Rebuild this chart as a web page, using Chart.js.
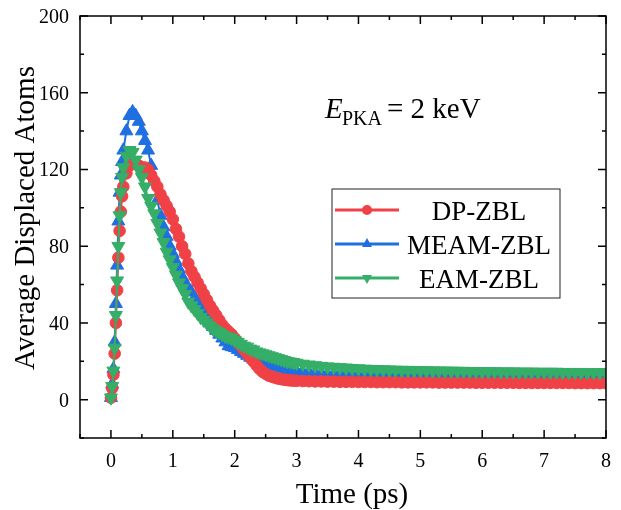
<!DOCTYPE html>
<html>
<head>
<meta charset="utf-8">
<script src="https://cdn.jsdelivr.net/npm/chart.js@4.4.1/dist/chart.umd.min.js"></script>
<style>
  body { margin: 0; background: #fff; }
  canvas { display: block; }
</style>
</head>
<body>
<canvas id="graph" width="621" height="510"></canvas>
<script>
// time (ps)
const time = [
  0, 0.02, 0.04, 0.06, 0.08, 0.1, 0.12, 0.14, 0.16, 0.18, 0.2,
  0.25, 0.3, 0.35, 0.4, 0.45, 0.5, 0.55, 0.6, 0.65, 0.7,
  0.75, 0.8, 0.85, 0.9, 0.95, 1.0, 1.05, 1.1, 1.15, 1.2,
  1.25, 1.3, 1.35, 1.4, 1.45, 1.5, 1.55, 1.6, 1.65, 1.7,
  1.75, 1.8, 1.85, 1.9, 1.95, 2.0, 2.05, 2.1, 2.15, 2.2,
  2.25, 2.3, 2.35, 2.4, 2.45, 2.5, 2.55, 2.6, 2.65, 2.7,
  2.75, 2.8, 2.85, 2.9, 2.95, 3.0,
  3.1, 3.2, 3.3, 3.4, 3.5, 3.6, 3.7, 3.8, 3.9, 4.0,
  4.1, 4.2, 4.3, 4.4, 4.5, 4.6, 4.7, 4.8, 4.9, 5.0,
  5.1, 5.2, 5.3, 5.4, 5.5, 5.6, 5.7, 5.8, 5.9, 6.0,
  6.1, 6.2, 6.3, 6.4, 6.5, 6.6, 6.7, 6.8, 6.9, 7.0,
  7.1, 7.2, 7.3, 7.4, 7.5, 7.6, 7.7, 7.8, 7.9, 8.0
];

const dpZbl = [
  1, 6, 13, 24, 40, 57, 74, 88, 98, 106, 111,
  118, 122, 124, 123, 122, 121, 121, 120, 117, 114,
  111, 107, 104, 101, 98, 94, 89, 85, 80, 76,
  71, 67, 64, 61, 58, 55, 52, 49, 46.5, 44,
  41.5, 39, 37, 35.5, 34, 32, 30, 28, 26, 24,
  22, 20, 18, 16, 14.5, 13.5, 12.5, 12, 11.5, 11,
  10.7, 10.4, 10.2, 10, 9.9, 9.8,
  9.7, 9.6, 9.5, 9.5, 9.4, 9.4, 9.3, 9.3, 9.3, 9.2,
  9.2, 9.2, 9.1, 9.1, 9.1, 9.1, 9.0, 9.0, 9.0, 9.0,
  9.0, 9.0, 8.9, 8.9, 8.9, 8.9, 8.9, 8.9, 8.8, 8.8,
  8.8, 8.8, 8.8, 8.8, 8.8, 8.7, 8.7, 8.7, 8.7, 8.7,
  8.7, 8.7, 8.7, 8.7, 8.6, 8.6, 8.6, 8.6, 8.6, 8.6
];

const meamZbl = [
  1, 8, 16, 30, 50, 70, 93, 108, 117, 124, 130,
  140, 148, 150, 148, 145, 140, 135, 130, 122, 114,
  104, 96, 90, 85, 80, 76, 72, 68, 64, 61,
  58, 56, 53, 51, 48, 45, 43, 40, 38, 36,
  34, 32, 30, 28, 27.5, 27, 26, 25, 24, 23,
  22, 21, 20.5, 20, 19.5, 19, 18.5, 18, 17.5, 17,
  16.5, 16, 15.7, 15.4, 15.1, 14.8,
  14.4, 14.1, 13.8, 13.6, 13.4, 13.2, 13.0, 12.9, 12.8, 12.7,
  12.6, 12.6, 12.5, 12.5, 12.4, 12.4, 12.4, 12.3, 12.3, 12.3,
  12.3, 12.2, 12.2, 12.2, 12.2, 12.1, 12.1, 12.1, 12.1, 12.1,
  12.0, 12.0, 12.0, 12.0, 12.0, 12.0, 12.0, 11.9, 11.9, 11.9,
  11.9, 11.9, 11.9, 11.9, 11.9, 11.8, 11.8, 11.8, 11.8, 11.8
];

const eamZbl = [
  1, 7, 15, 27, 44, 62, 80, 96, 108, 116, 121,
  127, 130, 129, 125, 120, 116, 111, 105, 101, 97,
  92, 87, 82, 77, 73, 69, 65, 61, 58, 55,
  51, 49, 47, 45, 43, 41.5, 40, 38.5, 37, 36,
  35, 34, 33, 32.5, 32, 31, 30, 29, 28, 27.5,
  26.5, 26, 25, 24.5, 24, 23.5, 23, 22.5, 22, 21.5,
  21, 20.5, 20, 19.7, 19.4, 19.1,
  18.6, 18.2, 17.8, 17.5, 17.2, 17.0, 16.8, 16.6, 16.4, 16.2,
  16.0, 15.9, 15.8, 15.7, 15.6, 15.5, 15.4, 15.4, 15.3, 15.2,
  15.2, 15.1, 15.1, 15.0, 15.0, 14.9, 14.9, 14.8, 14.8, 14.7,
  14.7, 14.7, 14.6, 14.6, 14.6, 14.5, 14.5, 14.5, 14.4, 14.4,
  14.4, 14.4, 14.3, 14.3, 14.3, 14.3, 14.2, 14.2, 14.2, 14.2
];

const xTicks = [0, 1, 2, 3, 4, 5, 6, 7, 8];
const yTicks = [0, 40, 80, 120, 160, 200];
const seriesNames = ["DP-ZBL", "MEAM-ZBL", "EAM-ZBL"];

const RED = "#ef4146";
const BLUE = "#1f6fe0";
const GREEN = "#35ae68";
const FONT = "'Liberation Serif', 'Times New Roman', serif";

function toPoints(ys) {
  return time.map((t, i) => ({ x: t, y: ys[i] }));
}

function makeSet(label, ys, color, style, radius, rotation) {
  return {
    label: label,
    data: toPoints(ys),
    borderColor: color,
    backgroundColor: color,
    pointBackgroundColor: color,
    pointBorderColor: color,
    pointBorderWidth: 1,
    pointStyle: style,
    pointRadius: radius,
    pointRotation: rotation,
    borderWidth: 2,
    showLine: true,
    tension: 0,
  };
}

// draw frame, inward ticks, labels, titles, legend and note
const decorations = {
  id: "decorations",
  afterDraw(chart) {
    const ctx = chart.ctx;
    const a = chart.chartArea;
    const xs = chart.scales.x;
    const ys = chart.scales.y;
    ctx.save();
    ctx.strokeStyle = "#000";
    ctx.fillStyle = "#000";
    ctx.lineWidth = 1.5;
    ctx.strokeRect(a.left, a.top, a.right - a.left, a.bottom - a.top);

    ctx.beginPath();
    for (let v = -0.5; v <= 8.001; v += 0.5) {
      const px = xs.getPixelForValue(v);
      const len = Math.abs(v - Math.round(v)) < 0.01 ? 8 : 4;
      ctx.moveTo(px, a.bottom); ctx.lineTo(px, a.bottom - len);
      ctx.moveTo(px, a.top); ctx.lineTo(px, a.top + len);
    }
    for (let v = -20; v <= 200; v += 20) {
      const py = ys.getPixelForValue(v);
      const len = v % 40 === 0 ? 8 : 4;
      ctx.moveTo(a.left, py); ctx.lineTo(a.left + len, py);
      ctx.moveTo(a.right, py); ctx.lineTo(a.right - len, py);
    }
    ctx.stroke();

    ctx.font = "20px " + FONT;
    ctx.textAlign = "center";
    ctx.textBaseline = "alphabetic";
    xTicks.forEach((v) => {
      ctx.fillText(String(v), xs.getPixelForValue(v), 467);
    });
    ctx.textAlign = "right";
    yTicks.forEach((v) => {
      ctx.fillText(String(v), 69, ys.getPixelForValue(v) + 7);
    });

    // axis titles
    ctx.font = "29px " + FONT;
    ctx.textAlign = "center";
    ctx.fillText("Time (ps)", 352, 503);
    ctx.save();
    ctx.translate(34, 218);
    ctx.rotate(-Math.PI / 2);
    ctx.fillText("Average Displaced Atoms", 0, 0);
    ctx.restore();

    // E_PKA note
    ctx.textAlign = "left";
    ctx.font = "italic 29px " + FONT;
    ctx.fillText("E", 325, 118);
    ctx.font = "20px " + FONT;
    ctx.fillText("PKA", 342, 125);
    ctx.font = "29px " + FONT;
    ctx.fillText("= 2 keV", 387, 118);

    // legend
    ctx.lineWidth = 1;
    ctx.strokeStyle = "#222";
    ctx.strokeRect(332, 189, 228, 109);
    const rows = [210, 244, 278];
    const colors = [RED, BLUE, GREEN];
    rows.forEach((ry, i) => {
      ctx.strokeStyle = colors[i];
      ctx.fillStyle = colors[i];
      ctx.lineWidth = 3;
      ctx.beginPath();
      ctx.moveTo(335, ry); ctx.lineTo(399, ry);
      ctx.stroke();
      ctx.beginPath();
      if (i === 0) {
        ctx.arc(367, ry, 5, 0, Math.PI * 2);
      } else if (i === 1) {
        ctx.moveTo(367, ry - 6); ctx.lineTo(372, ry + 3); ctx.lineTo(362, ry + 3);
      } else {
        ctx.moveTo(367, ry + 6); ctx.lineTo(372, ry - 3); ctx.lineTo(362, ry - 3);
      }
      ctx.closePath();
      ctx.fill();
      ctx.fillStyle = "#000";
      ctx.font = "27px " + FONT;
      ctx.textAlign = "center";
      ctx.fillText(seriesNames[i], 479, ry + 10);
    });
    ctx.restore();
  },
};

// first dataset ends up drawn on top: green, then red, blue underneath
const ctx = document.getElementById("graph").getContext("2d");
window.myChart = new Chart(ctx, {
  type: "scatter",
  data: {
    datasets: [
      makeSet(seriesNames[2], eamZbl, GREEN, "triangle", 7.5, 180),
      makeSet(seriesNames[0], dpZbl, RED, "circle", 5.8, 0),
      makeSet(seriesNames[1], meamZbl, BLUE, "triangle", 7.5, 0),
    ],
  },
  options: {
    responsive: false,
    animation: false,
    layout: { padding: { left: 80, right: 15, top: 16, bottom: 72 } },
    scales: {
      x: { type: "linear", min: -0.5, max: 8, display: false },
      y: { type: "linear", min: -20, max: 200, display: false },
    },
    plugins: {
      legend: { display: false },
      tooltip: { enabled: false },
    },
  },
  plugins: [decorations],
});
</script>
</body>
</html>
